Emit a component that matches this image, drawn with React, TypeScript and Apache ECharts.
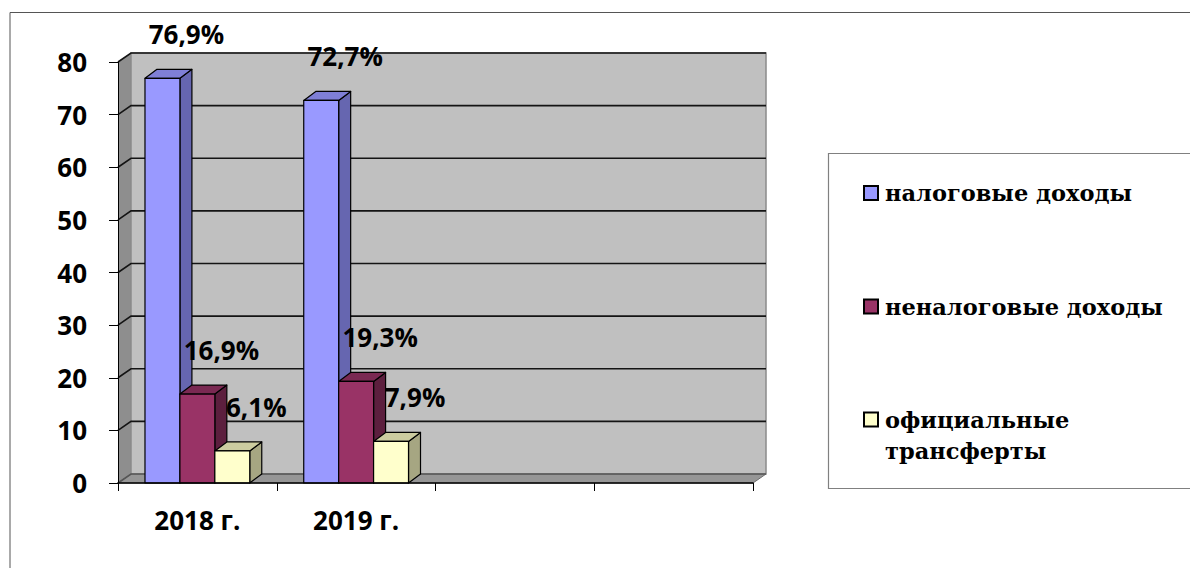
import React, { useEffect, useRef } from 'react';
import * as echarts from 'echarts';

const CATEGORIES = ['2018 г.', '2019 г.', '', ''];
const SERIES_NAMES = ['налоговые доходы', 'неналоговые доходы', 'официальные трансферты'];
const LEGEND_LABELS = ['налоговые доходы', 'неналоговые доходы', 'официальные\nтрансферты'];
const TAX_INCOME = [76.9, 72.7];
const NON_TAX_INCOME = [16.9, 19.3];
const TRANSFERS = [6.1, 7.9];
const SERIES_VALUES = [TAX_INCOME, NON_TAX_INCOME, TRANSFERS];
const Y_MIN = 0;
const Y_MAX = 80;
const Y_STEP = 10;

const PALETTE = [
  { front: '#9999FF', top: '#7F7FD6', side: '#6666B0' },
  { front: '#993366', top: '#7A2952', side: '#5C1F3E' },
  { front: '#FFFFCC', top: '#CCCCA0', side: '#A6A682' },
];

const WALL_DX = 13;
const WALL_DY = 9;
const BAR_DX = 12;
const BAR_DY = 9;
const SANS = 'Open Sans';
const SERIF = 'DejaVu Serif';

const fmt = (v: number) => v.toFixed(1).replace('.', ',') + '%';

const renderWalls = (params: any, api: any) => {
  const cs = params.coordSys;
  const x = cs.x, y = cs.y, w = cs.width, h = cs.height;
  const children: any[] = [];
  children.push({
    type: 'polygon',
    shape: { points: [[x, y], [x + WALL_DX, y - WALL_DY], [x + WALL_DX, y + h - WALL_DY], [x, y + h]] },
    style: { fill: '#8E8E8E' },
  });
  children.push({
    type: 'polygon',
    shape: { points: [[x, y + h], [x + WALL_DX, y + h - WALL_DY], [x + w + WALL_DX, y + h - WALL_DY], [x + w, y + h]] },
    style: { fill: '#969696', stroke: '#6E6E6E', lineWidth: 1 },
  });
  children.push({
    type: 'rect',
    shape: { x: x + WALL_DX, y: y - WALL_DY, width: w, height: h },
    style: { fill: '#C0C0C0', stroke: '#8A8A8A', lineWidth: 1.5 },
  });
  for (let v = Y_MIN; v <= Y_MAX; v += Y_STEP) {
    const yy = api.coord([0, v])[1];
    children.push({
      type: 'polyline',
      shape: { points: [[x, yy], [x + WALL_DX, yy - WALL_DY], [x + w + WALL_DX, yy - WALL_DY]] },
      style: { stroke: v === Y_MIN ? '#555' : '#141414', lineWidth: 1.6, fill: null },
    });
  }
  return { type: 'group', children };
};

const makeBarRenderer = (k: number) => (params: any, api: any) => {
  const cat = api.value(0);
  const val = api.value(1);
  const band = api.size([1, 0])[0];
  const bw = band * 0.22;
  const top = api.coord([cat, val]);
  const base = api.coord([cat, 0]);
  const cx = top[0];
  const yTop = top[1];
  const yBase = base[1];
  const bx = cx + (k - 1) * bw - bw / 2;
  const c = PALETTE[k];
  const stroke = { stroke: '#000', lineWidth: 1.2, lineJoin: 'round' };
  return {
    type: 'group',
    children: [
      {
        type: 'polygon',
        shape: { points: [[bx + bw, yTop], [bx + bw + BAR_DX, yTop - BAR_DY], [bx + bw + BAR_DX, yBase - BAR_DY], [bx + bw, yBase]] },
        style: { fill: c.side, ...stroke },
      },
      {
        type: 'polygon',
        shape: { points: [[bx, yTop], [bx + BAR_DX, yTop - BAR_DY], [bx + bw + BAR_DX, yTop - BAR_DY], [bx + bw, yTop]] },
        style: { fill: c.top, ...stroke },
      },
      {
        type: 'rect',
        shape: { x: bx, y: yTop, width: bw, height: yBase - yTop },
        style: { fill: c.front, ...stroke },
      },
      {
        type: 'text',
        z2: 100,
        style: {
          text: fmt(val),
          x: bx + bw / 2 + 24,
          y: yTop - 44,
          align: 'center',
          verticalAlign: 'middle',
          fontFamily: SANS,
          fontSize: 26,
          fontWeight: 'bold',
          fill: '#000',
        },
      },
    ],
  };
};

const App: React.FC = () => {
  const ref = useRef<HTMLDivElement>(null);

  useEffect(() => {
    if (!ref.current) return;
    const chart = echarts.init(ref.current, null, { renderer: 'svg' });

    const legendItems: any[] = [];
    const legendCenters = [193, 306.5, 419.5];
    LEGEND_LABELS.forEach((label, i) => {
      legendItems.push({
        type: 'rect',
        shape: { x: 864, y: legendCenters[i] - 7, width: 14, height: 14 },
        style: { fill: PALETTE[i].front, stroke: '#000', lineWidth: 2 },
      });
      legendItems.push({
        type: 'text',
        style: {
          text: label,
          x: 885,
          y: legendCenters[i] - 15.5,
          verticalAlign: 'top',
          lineHeight: 31,
          fontFamily: SERIF,
          fontSize: 22.5,
          fontWeight: 'bold',
          fill: '#000',
        },
      });
    });

    const option: any = {
      animation: false,
      backgroundColor: '#ffffff',
      grid: { left: 118, right: 437, top: 62, bottom: 85, containLabel: false },
      xAxis: {
        type: 'category',
        data: CATEGORIES,
        boundaryGap: true,
        axisLine: { show: true, lineStyle: { color: '#000', width: 1.5 } },
        axisTick: { show: true, length: 8, lineStyle: { color: '#000', width: 1 } },
        axisLabel: { fontSize: 26, fontWeight: 'bold', fontFamily: SANS, color: '#000', margin: 24 },
        splitLine: { show: false },
        z: 10,
      },
      yAxis: {
        type: 'value',
        min: Y_MIN,
        max: Y_MAX,
        interval: Y_STEP,
        axisLine: { show: true, lineStyle: { color: '#000', width: 1 } },
        axisTick: { show: true, length: 9, lineStyle: { color: '#000', width: 1 } },
        axisLabel: {
          fontSize: 26,
          fontWeight: 'bold',
          fontFamily: SANS,
          color: '#000',
          margin: 31,
          padding: [6, 0, 0, 0],
        },
        splitLine: { show: false },
        z: 10,
      },
      graphic: [
        {
          type: 'polyline',
          shape: { points: [[10, 568], [10, 12.5], [1190, 12.5]] },
          style: { stroke: '#555', lineWidth: 1, fill: null },
          silent: true,
        },
        {
          type: 'rect',
          shape: { x: 828.5, y: 153.5, width: 400, height: 335 },
          style: { fill: '#fff', stroke: '#808080', lineWidth: 1.2 },
          silent: true,
        },
        ...legendItems,
      ],
      series: [
        {
          type: 'custom',
          name: 'walls',
          renderItem: renderWalls,
          data: [[0, 0]],
          encode: { x: 0, y: 1 },
          silent: true,
          z: 1,
        },
        ...SERIES_VALUES.map((vals, k) => ({
          type: 'custom',
          name: SERIES_NAMES[k],
          renderItem: makeBarRenderer(k),
          data: vals.map((v, j) => [j, v]),
          encode: { x: 0, y: 1 },
          silent: true,
          z: 2,
        })),
      ],
    };

    chart.setOption(option);
    return () => {
      chart.dispose();
    };
  }, []);

  return (
    <div
      ref={ref}
      style={{ position: 'absolute', left: 0, top: 0, width: 1190, height: 568, background: '#fff' }}
    />
  );
};

export default App;
